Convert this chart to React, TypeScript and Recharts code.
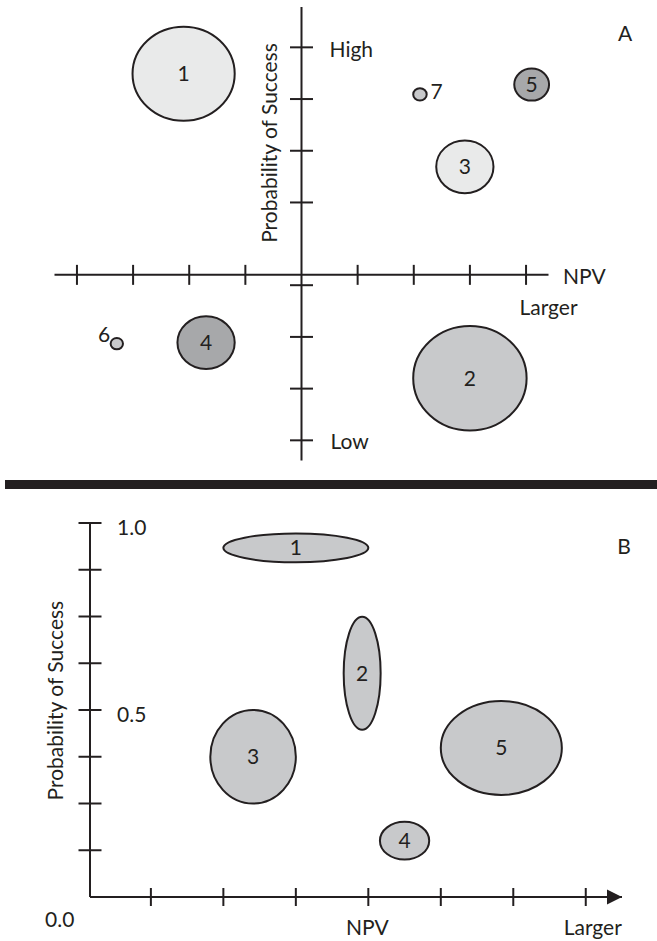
import React from 'react';
import {
  ScatterChart,
  Scatter,
  XAxis,
  YAxis,
  ReferenceLine,
  ReferenceDot,
  ReferenceArea,
} from 'recharts';

// ---------------- Panel A data ----------------
const aXDomain: [number, number] = [-4.4, 4.4];
const aYDomain: [number, number] = [-3.59, 5.18];
const aXTicks = [-4, -3, -2, -1, 1, 2, 3, 4];
const aYTicks = [4.4, 3.4, 2.4, 1.4, -0.2, -1.2, -2.2, -3.2];
const aProjects = ['1', '2', '3', '4', '5', '6', '7'];
const aNpv = [-2.1, 3.0, 2.91, -1.7, 4.1, -3.29, 2.11];
const aProb = [3.89, -2.0, 2.09, -1.31, 3.68, -1.33, 3.49];
const aRadius = [0.91, 1.01, 0.51, 0.51, 0.31, 0.11, 0.12];
const aGroup = ['low', 'mid', 'low', 'high', 'high', 'mid', 'mid'];

// ---------------- Panel B data ----------------
const bXDomain: [number, number] = [0.16, 7.5];
const bYDomain: [number, number] = [0, 1];
const bXTicks = [1, 2, 3, 4, 5, 6, 7];
const bYTicks = [0.125, 0.25, 0.375, 0.5, 0.625, 0.75, 0.875, 1.0];
const bYTickLabels = ['1.0', '0.5'];
const bYTickLabelValues = [1.0, 0.5];
const bProjects = ['1', '2', '3', '4', '5'];
const bNpvLow = [2.0, 3.66, 1.82, 4.16, 5.0];
const bNpvHigh = [4.0, 4.17, 3.0, 4.84, 6.67];
const bProbLow = [0.895, 0.447, 0.25, 0.1, 0.273];
const bProbHigh = [0.972, 0.749, 0.5, 0.201, 0.524];

// ---------------- styles ----------------
const INK = '#231f20';
const FONT = 'Lato, "Open Sans", sans-serif';
const FS = 21;
const groupFill: Record<string, string> = {
  low: '#e9eaea',
  mid: '#c8c9cb',
  high: '#a7a8aa',
};
// label placement (pixel offsets from bubble centre)
const aLabelOffset: Record<string, [number, number, 'start' | 'middle' | 'end']> = {
  '6': [-6.5, -1.5, 'end'],
  '7': [10.5, 4.5, 'start'],
};

const aBubbles = aProjects.map((id, i) => ({
  id,
  x: aNpv[i],
  y: aProb[i],
  r: aRadius[i],
  group: aGroup[i],
}));

const bBubbles = bProjects.map((id, i) => ({
  id,
  x: (bNpvLow[i] + bNpvHigh[i]) / 2,
  y: (bProbLow[i] + bProbHigh[i]) / 2,
  x1: bNpvLow[i],
  x2: bNpvHigh[i],
  y1: bProbLow[i],
  y2: bProbHigh[i],
}));

const ellipseShape = (fill: string) => (p: any) => {
  const w = Math.abs(p.width);
  const h = Math.abs(p.height);
  const x = Math.min(p.x, p.x + p.width);
  const y = Math.min(p.y, p.y + p.height);
  return (
    <ellipse
      cx={x + w / 2}
      cy={y + h / 2}
      rx={w / 2}
      ry={h / 2}
      fill={fill}
      stroke={INK}
      strokeWidth={2}
    />
  );
};

const vTick = (half: number) => (p: any) => (
  <line x1={p.cx} x2={p.cx} y1={p.cy - half} y2={p.cy + half} stroke={INK} strokeWidth={2} />
);
const hTick = (half: number) => (p: any) => (
  <line x1={p.cx - half} x2={p.cx + half} y1={p.cy} y2={p.cy} stroke={INK} strokeWidth={2} />
);

const textAt =
  (text: string, dx: number, dy: number, anchor: 'start' | 'middle' | 'end' = 'start', size = FS) =>
  (p: any) => (
    <text
      x={p.cx + dx}
      y={p.cy + dy}
      textAnchor={anchor}
      fontFamily={FONT}
      fontSize={size}
      fill={INK}
    >
      {text}
    </text>
  );

const rotatedTextAt = (text: string, dx: number) => (p: any) => (
  <text
    x={p.cx + dx}
    y={p.cy}
    textAnchor="middle"
    fontFamily={FONT}
    fontSize={FS}
    fill={INK}
    transform={`rotate(-90, ${p.cx + dx}, ${p.cy})`}
  >
    {text}
  </text>
);

const arrowHead = (p: any) => (
  <polygon
    points={`${p.cx - 15},${p.cy - 7.5} ${p.cx},${p.cy} ${p.cx - 15},${p.cy + 7.5}`}
    fill={INK}
  />
);

const aLabelShape = (p: any) => {
  const id = p.payload.id;
  const off = aLabelOffset[id];
  const dx = off ? off[0] : 0;
  const dy = off ? off[1] : 7.5;
  const anchor = off ? off[2] : 'middle';
  return (
    <text x={p.cx + dx} y={p.cy + dy} textAnchor={anchor} fontFamily={FONT} fontSize={FS} fill={INK}>
      {id}
    </text>
  );
};

const bLabelShape = (p: any) => (
  <text x={p.cx} y={p.cy + 7.5} textAnchor="middle" fontFamily={FONT} fontSize={FS} fill={INK}>
    {p.payload.id}
  </text>
);

function PanelA() {
  return (
    <ScatterChart
      width={657}
      height={470}
      margin={{ top: 7, right: 108.5, bottom: 9.5, left: 54.5 }}
    >
      <XAxis type="number" dataKey="x" domain={aXDomain} allowDataOverflow hide />
      <YAxis type="number" dataKey="y" domain={aYDomain} allowDataOverflow hide />
      {aBubbles.map((b) => (
        <ReferenceArea
          key={`a-area-${b.id}`}
          x1={b.x - b.r}
          x2={b.x + b.r}
          y1={b.y - b.r}
          y2={b.y + b.r}
          ifOverflow="visible"
          shape={ellipseShape(groupFill[b.group])}
        />
      ))}
      <ReferenceLine y={0} stroke={INK} strokeWidth={2} ifOverflow="visible" />
      <ReferenceLine x={0} stroke={INK} strokeWidth={2} ifOverflow="visible" />
      {aXTicks.map((t) => (
        <ReferenceDot key={`axt-${t}`} x={t} y={0} r={1} ifOverflow="visible" shape={vTick(10)} />
      ))}
      {aYTicks.map((t) => (
        <ReferenceDot key={`ayt-${t}`} x={0} y={t} r={1} ifOverflow="visible" shape={hTick(11.5)} />
      ))}
      <ReferenceDot x={0} y={4.4} r={1} ifOverflow="visible" shape={textAt('High', 28, 10)} />
      <ReferenceDot x={0} y={-3.2} r={1} ifOverflow="visible" shape={textAt('Low', 29, 9)} />
      <ReferenceDot x={4.4} y={0} r={1} ifOverflow="visible" shape={textAt('NPV', 14.5, 9.6)} />
      <ReferenceDot x={4.4} y={0} r={1} ifOverflow="visible" shape={textAt('Larger', 0, 40, 'middle')} />
      <ReferenceDot x={4.4} y={5.18} r={1} ifOverflow="visible" shape={textAt('A', 76.5, 33.7, 'middle')} />
      <ReferenceDot
        x={0}
        y={2.55}
        r={1}
        ifOverflow="visible"
        shape={rotatedTextAt('Probability of Success', -24)}
      />
      <Scatter data={aBubbles} isAnimationActive={false} shape={aLabelShape} />
    </ScatterChart>
  );
}

function PanelB() {
  return (
    <ScatterChart
      width={657}
      height={452}
      margin={{ top: 34, right: 35, bottom: 44, left: 90 }}
    >
      <XAxis type="number" dataKey="x" domain={bXDomain} allowDataOverflow hide />
      <YAxis type="number" dataKey="y" domain={bYDomain} allowDataOverflow hide />
      {bBubbles.map((b) => (
        <ReferenceArea
          key={`b-area-${b.id}`}
          x1={b.x1}
          x2={b.x2}
          y1={b.y1}
          y2={b.y2}
          ifOverflow="visible"
          shape={ellipseShape(groupFill.mid)}
        />
      ))}
      <ReferenceLine y={0} stroke={INK} strokeWidth={2} ifOverflow="visible" />
      <ReferenceLine x={bXDomain[0]} stroke={INK} strokeWidth={2} ifOverflow="visible" />
      <ReferenceDot x={bXDomain[1]} y={0} r={1} ifOverflow="visible" shape={arrowHead} />
      {bXTicks.map((t) => (
        <ReferenceDot key={`bxt-${t}`} x={t} y={0} r={1} ifOverflow="visible" shape={vTick(9)} />
      ))}
      {bYTicks.map((t) => (
        <ReferenceDot
          key={`byt-${t}`}
          x={bXDomain[0]}
          y={t}
          r={1}
          ifOverflow="visible"
          shape={hTick(11.5)}
        />
      ))}
      {bYTickLabelValues.map((v, i) => (
        <ReferenceDot
          key={`bytl-${v}`}
          x={bXDomain[0]}
          y={v}
          r={1}
          ifOverflow="visible"
          shape={textAt(bYTickLabels[i], 27, 12)}
        />
      ))}
      <ReferenceDot x={bXDomain[0]} y={0} r={1} ifOverflow="visible" shape={textAt('0.0', -45, 30)} />
      <ReferenceDot x={4} y={0} r={1} ifOverflow="visible" shape={textAt('NPV', -1, 38, 'middle')} />
      <ReferenceDot x={7} y={0} r={1} ifOverflow="visible" shape={textAt('Larger', 7, 38, 'middle')} />
      <ReferenceDot x={bXDomain[1]} y={1} r={1} ifOverflow="visible" shape={textAt('B', 2, 31, 'middle')} />
      <ReferenceDot
        x={bXDomain[0]}
        y={0.525}
        r={1}
        ifOverflow="visible"
        shape={rotatedTextAt('Probability of Success', -27)}
      />
      <Scatter data={bBubbles} isAnimationActive={false} shape={bLabelShape} />
    </ScatterChart>
  );
}

export default function App() {
  return (
    <div
      style={{
        position: 'absolute',
        left: 0,
        top: 0,
        width: 657,
        height: 941,
        background: '#ffffff',
        overflow: 'hidden',
      }}
    >
      <div style={{ position: 'absolute', left: 0, top: 0 }}>
        <PanelA />
      </div>
      <div
        style={{
          position: 'absolute',
          left: 5,
          top: 480,
          width: 652,
          height: 9,
          background: INK,
        }}
      />
      <div style={{ position: 'absolute', left: 0, top: 489 }}>
        <PanelB />
      </div>
    </div>
  );
}
